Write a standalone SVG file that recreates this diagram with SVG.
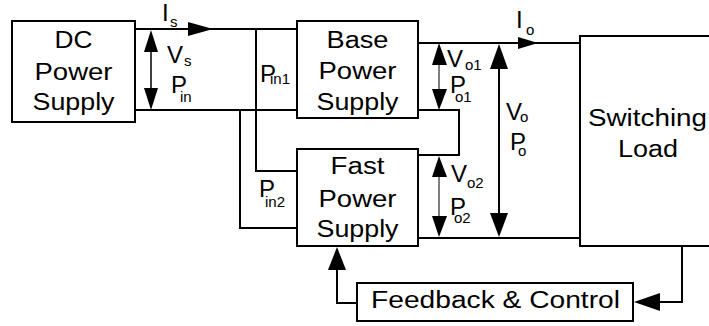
<svg xmlns="http://www.w3.org/2000/svg" width="709" height="326" viewBox="0 0 709 326">
<style>
.box{fill:#fff;stroke:#000;stroke-width:2}
.w{fill:none;stroke:#000;stroke-width:2}
.g{fill:none;stroke:#555;stroke-width:1.5}
.ah{fill:#000;stroke:none}
.t{font-family:"Liberation Sans",Arial,sans-serif;font-size:23px;fill:#000;text-anchor:middle}
.l{font-family:"Liberation Sans",Arial,sans-serif;font-size:24px;fill:#000}
.s{font-family:"Liberation Sans",Arial,sans-serif;font-size:15px;fill:#000}
</style>
<rect width="709" height="326" fill="#fff"/>
<g id="connectors">
<path class="w" d="M135 29H297M135 110H297M256 29V171H297M240 110V228H297"/>
<path class="w" d="M418 43H580M418 110H459V155H418M418 238H580"/>
<path class="w" d="M682 246V302H660M357 303H337V270"/>
<path class="w" d="M151 50V90" style="stroke-width:1.5"/>
<path class="g" d="M439 63V92M439 175V218"/>
<path class="w" d="M499 66V216"/>
<polygon class="ah" points="213,29 188,22 188,36"/>
<polygon class="ah" points="538,43 518,37 518,49"/>
<polygon class="ah" points="151,30 144,52 158,52"/>
<polygon class="ah" points="151,110 144,88 158,88"/>
<polygon class="ah" points="439,43 432,65 447,65"/>
<polygon class="ah" points="439,110 432,89 447,89"/>
<polygon class="ah" points="439,156 432,177 447,177"/>
<polygon class="ah" points="439,237 432,216 447,216"/>
<polygon class="ah" points="499,44 490,69 508,69"/>
<polygon class="ah" points="499,237 490,213 508,213"/>
<polygon class="ah" points="634,302 660,293 660,311"/>
<polygon class="ah" points="337,247 328,270 346,270"/>
</g>
<g id="dc">
<rect class="box" x="12" y="21" width="123" height="101"/>
<text class="t" x="73.5" y="48" textLength="38" lengthAdjust="spacingAndGlyphs">DC</text>
<text class="t" x="73.5" y="80" textLength="78" lengthAdjust="spacingAndGlyphs">Power</text>
<text class="t" x="73.5" y="110" textLength="82" lengthAdjust="spacingAndGlyphs">Supply</text>
</g>
<g id="base">
<rect class="box" x="297" y="21" width="121" height="97"/>
<text class="t" x="357.5" y="48" textLength="62" lengthAdjust="spacingAndGlyphs">Base</text>
<text class="t" x="357.5" y="79" textLength="78" lengthAdjust="spacingAndGlyphs">Power</text>
<text class="t" x="357.5" y="110" textLength="82" lengthAdjust="spacingAndGlyphs">Supply</text>
</g>
<g id="fast">
<rect class="box" x="297" y="149" width="121" height="97"/>
<text class="t" x="357.5" y="174" textLength="54" lengthAdjust="spacingAndGlyphs">Fast</text>
<text class="t" x="357.5" y="207" textLength="78" lengthAdjust="spacingAndGlyphs">Power</text>
<text class="t" x="357.5" y="237" textLength="82" lengthAdjust="spacingAndGlyphs">Supply</text>
</g>
<g id="load">
<rect class="box" x="580" y="36" width="140" height="210"/>
<text class="t" x="647.5" y="126" textLength="119" lengthAdjust="spacingAndGlyphs">Switching</text>
<text class="t" x="648" y="157" textLength="60" lengthAdjust="spacingAndGlyphs">Load</text>
</g>
<g id="feedback">
<rect class="box" x="357" y="283" width="276" height="38"/>
<text class="t" x="495.5" y="308" textLength="249" lengthAdjust="spacingAndGlyphs">Feedback &amp; Control</text>
</g>
<g id="labels">
<text class="l" x="162" y="21">I</text><text class="s" x="170" y="27">s</text>
<text class="l" x="167" y="63">V</text><text class="s" x="184" y="66">s</text>
<text class="l" x="171" y="93">P</text><text class="s" x="180" y="102">in</text>
<text class="l" x="260" y="82">P</text><text class="s" x="270" y="84">in1</text>
<text class="l" x="259" y="197">P</text><text class="s" x="265" y="207">in2</text>
<text class="l" x="447" y="67">V</text><text class="s" x="465" y="70">o1</text>
<text class="l" x="450" y="93">P</text><text class="s" x="455" y="102">o1</text>
<text class="l" x="506" y="120">V</text><text class="s" x="520" y="122">o</text>
<text class="l" x="510" y="150">P</text><text class="s" x="518" y="156">o</text>
<text class="l" x="451" y="182">V</text><text class="s" x="467" y="188">o2</text>
<text class="l" x="450" y="215">P</text><text class="s" x="454" y="223">o2</text>
<text class="l" x="516" y="28">I</text><text class="s" x="526" y="35">o</text>
</g>
</svg>
